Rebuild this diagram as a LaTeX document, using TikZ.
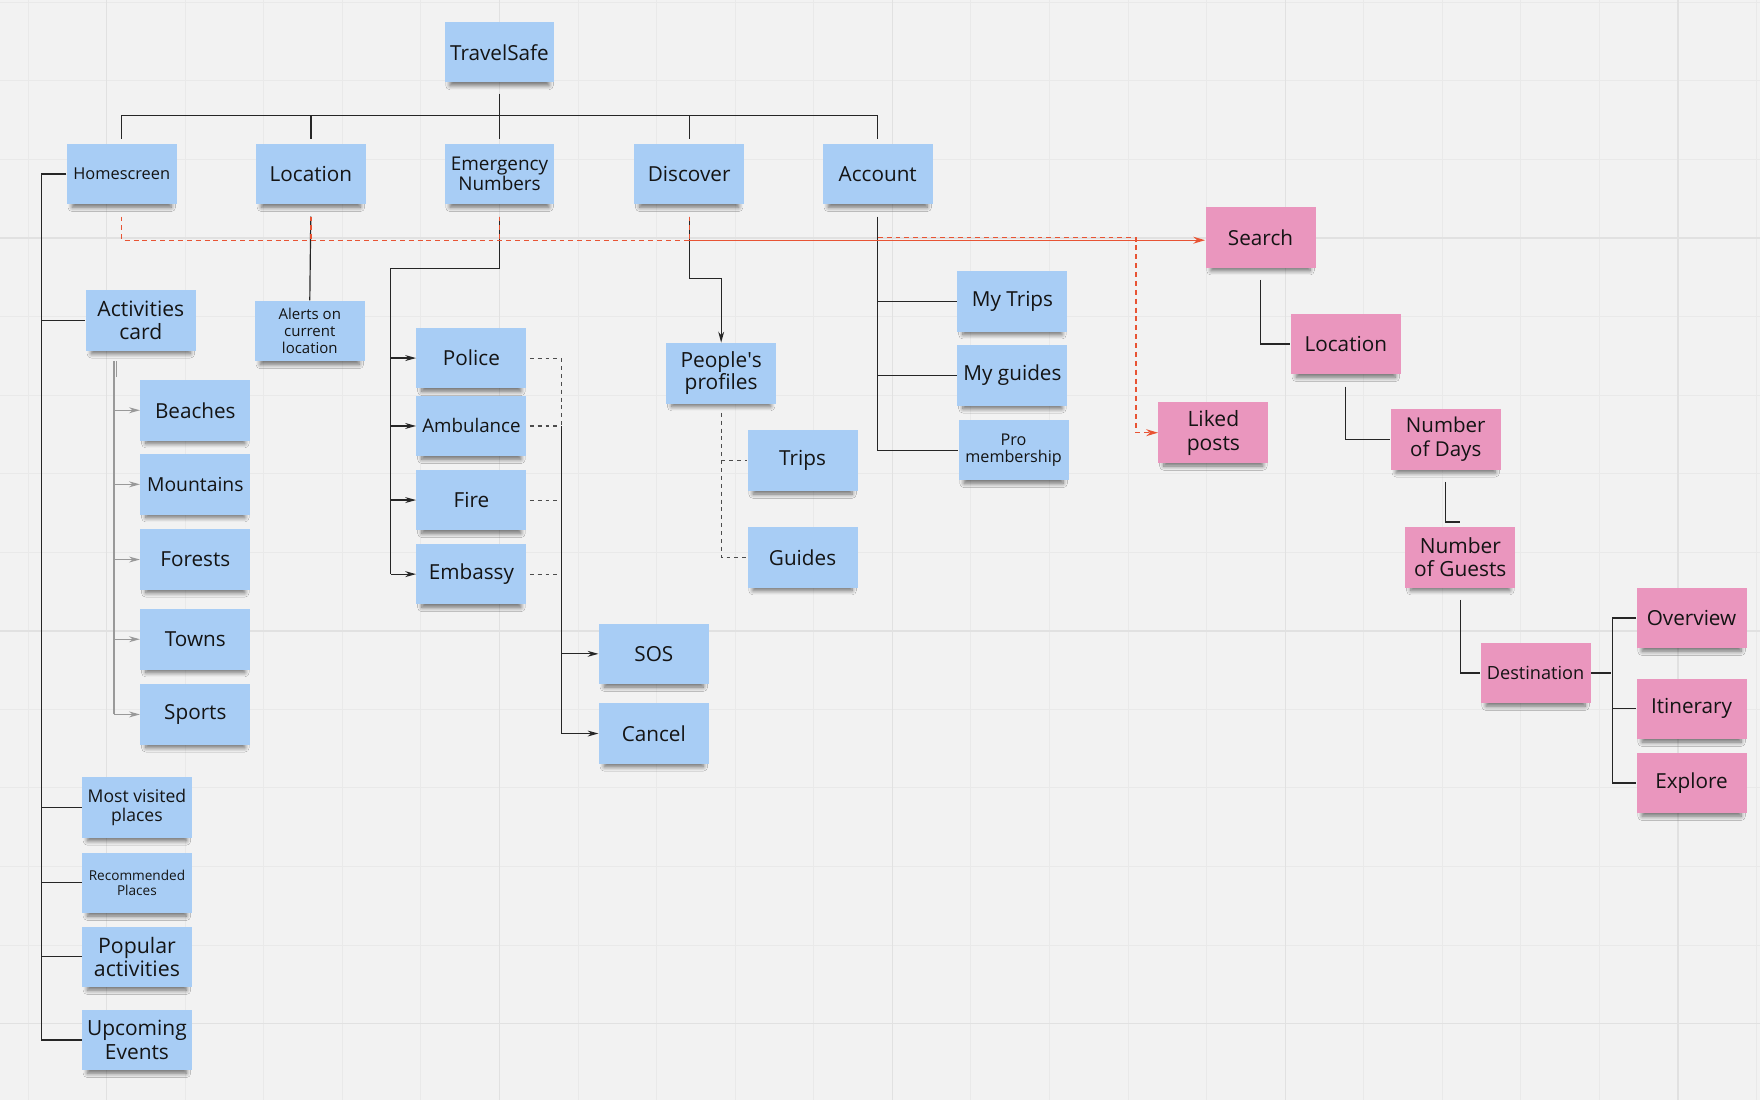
\documentclass[tikz,border=0pt]{standalone}
\usepackage{fontspec}
\setmainfont{Open Sans}
\usetikzlibrary{arrows.meta,shadows.blur}
\definecolor{noteblue}{RGB}{168,205,245}
\definecolor{notepink}{RGB}{234,150,190}
\definecolor{boardbg}{RGB}{242,242,242}
\definecolor{gridminor}{RGB}{233,233,233}
\definecolor{gridmajor}{RGB}{225,225,225}
\definecolor{linkred}{RGB}{232,84,52}
\newcommand{\nfs}[2]{\fontsize{#1}{#2}\selectfont}

\begin{document}
\begin{tikzpicture}[x=0.02cm,y=-0.02cm,line cap=butt,
  note/.style={rectangle,fill=noteblue,minimum width=1.96cm,minimum height=1.08cm,inner sep=1pt,align=center,text=black!92,font=\nfs{10.5}{12},
    blur shadow={shadow xshift=0pt,shadow yshift=-3.4pt,shadow scale=0.9,shadow blur radius=2.4pt,shadow blur steps=8,shadow opacity=55}},
  pnote/.style={note,fill=notepink},
  wire/.style={draw=black!85,line width=0.6pt},
  arrowwire/.style={wire,-{Stealth[length=5.5pt,width=3pt]}},
  dwire/.style={draw=black!70,line width=0.55pt,dash pattern=on 2pt off 2pt},
  gwire/.style={draw=black!40,line width=0.6pt},
  garrow/.style={gwire,-{Stealth[length=5.5pt,width=3pt]}},
  rdash/.style={draw=linkred,line width=0.6pt,dash pattern=on 2.5pt off 2pt},
  rline/.style={draw=linkred,line width=0.7pt}]
\useasboundingbox (0,0) rectangle (1568,980);
\fill[boardbg] (0,0) rectangle (1568,980);
\foreach \i in {0,...,22} \draw[gridminor,line width=0.5pt] ({25+70*\i},0) -- ++(0,980);
\foreach \i in {0,...,13} \draw[gridminor,line width=0.5pt] (0,{2+70*\i}) -- ++(1568,0);
\foreach \i in {0,...,4} \draw[gridmajor,line width=0.7pt] ({95+350*\i},0) -- ++(0,980);
\foreach \i in {0,...,2} \draw[gridmajor,line width=0.7pt] (0,{212+350*\i}) -- ++(1568,0);

\node[note] (ts) at (445,46.5) {TravelSafe};
\node[note,font=\nfs{8.3}{10}] (home) at (108.5,155) {Homescreen};
\node[note] (loc) at (277,155) {Location};
\node[note,font=\nfs{9.6}{10.2}] (emerg) at (445,155) {Emergency\\Numbers};
\node[note] (disc) at (614,155) {Discover};
\node[note] (acct) at (782,155) {Account};
\node[note,font=\nfs{10.7}{11.5}] (actcard) at (125.5,285.5) {Activities\\card};
\node[note,font=\nfs{7.6}{8.5}] (alerts) at (276,295) {Alerts on\\current\\location};
\node[note] (police) at (420,319) {Police};
\node[note,font=\nfs{9.5}{12}] (amb) at (420,379.5) {Ambulance};
\node[note] (fire) at (420,445.5) {Fire};
\node[note] (embassy) at (420,511.5) {Embassy};
\node[note] (sos) at (582.5,582.5) {SOS};
\node[note] (cancel) at (582.5,653.5) {Cancel};
\node[note] (beach) at (174,365.5) {Beaches};
\node[note,font=\nfs{9.8}{12}] (mount) at (174,431.5) {Mountains};
\node[note] (forest) at (174,498.5) {Forests};
\node[note] (town) at (174,569.5) {Towns};
\node[note] (sport) at (174,636.5) {Sports};
\node[note,font=\nfs{8.9}{9.7}] (mostvis) at (122,719.5) {Most visited\\places};
\node[note,font=\nfs{6.9}{7.9}] (recomm) at (122,786.5) {Recommended\\Places};
\node[note,font=\nfs{10.8}{11.8}] (popular) at (122,852.5) {Popular\\activities};
\node[note,font=\nfs{10.6}{11.8}] (upcoming) at (122,926.5) {Upcoming\\Events};
\node[note,font=\nfs{10.6}{11.5}] (people) at (642.5,332.5) {People\textquotesingle s\\profiles};
\node[note] (trips) at (715,410.5) {Trips};
\node[note] (guides) at (715,496.5) {Guides};
\node[note] (mytrips) at (902,268.5) {My Trips};
\node[note] (myguides) at (902,334.5) {My guides};
\node[note,font=\nfs{8.2}{9}] (pro) at (903,401) {Pro\\membership};

\node[pnote] (search) at (1123,211.5) {Search};
\node[pnote] (sloc) at (1199,306.5) {Location};
\node[pnote,font=\nfs{10.7}{12}] (liked) at (1081,385.5) {Liked\\posts};
\node[pnote,font=\nfs{10.4}{12}] (ndays) at (1288,391.5) {Number\\of Days};
\node[pnote,font=\nfs{10.6}{12}] (nguests) at (1301,496.5) {Number\\of Guests};
\node[pnote,font=\nfs{9.2}{12}] (dest) at (1368,599.5) {Destination};
\node[pnote] (overview) at (1507,550.5) {Overview};
\node[pnote] (itin) at (1507,631.5) {Itinerary};
\node[pnote] (explore) at (1507,697.5) {Explore};

\draw[wire,shorten <=5.5pt,shorten >=2.3pt] (ts.south) -- (emerg.north);
\draw[wire,shorten <=2.3pt,shorten >=2.3pt] (home.north) -- ++(0,-25) -| (acct.north);
\foreach \n in {loc,disc} \draw[wire,shorten <=2.3pt] (\n.north) -- ++(0,-25);

\coordinate (spine) at (37,0);
\draw[wire] (home.west) -| (spine |- upcoming.west) -- (upcoming.west);
\foreach \n in {actcard,mostvis,recomm,popular} \draw[wire] (spine |- \n.west) -- (\n.west);

\coordinate (arail) at (101.5,322);
\draw[gwire] (arail) -- (arail |- sport.west);
\draw[gwire] (arail) ++(2,0) -- ++(0,14);
\foreach \n in {beach,mount,forest,town,sport} \draw[garrow] (arail |- \n.west) -- (\n.west);

\draw[wire,shorten <=6pt] (loc.south) -- (alerts.north);

\coordinate (erail) at (348,239);
\draw[wire,shorten <=6pt] (emerg.south) |- (erail) -- (erail |- embassy.west);
\foreach \n in {police,amb,fire,embassy} \draw[arrowwire] (erail |- \n.west) -- (\n.west);

\coordinate (drail) at (500,0);
\draw[dwire,shorten <=1.5pt] (police.east) -| (drail |- amb.east);
\foreach \n in {amb,fire,embassy} \draw[dwire,shorten <=1.5pt] (\n.east) -- (drail |- \n.east);
\draw[arrowwire] (drail |- amb.east) |- (cancel.west);
\draw[arrowwire] (drail |- sos.west) -- (sos.west);

\draw[arrowwire,shorten <=6pt] (disc.south) -- ++(0,66) -| (people.north);
\draw[dwire,shorten <=4.5pt] (people.south) |- (guides.west);
\draw[dwire] (people.south |- trips.west) -- (trips.west);

\draw[wire,shorten <=6pt] (acct.south) |- (pro.west);
\foreach \n in {mytrips,myguides} \draw[wire] (acct.south |- \n.west) -- (\n.west);

\coordinate (redbus) at (0,214);
\draw[rdash,shorten <=6pt] (home.south) |- (disc.south |- redbus);
\foreach \n in {loc,emerg,disc} \draw[rdash,shorten <=6pt] (\n.south) -- (\n.south |- redbus);
\draw[rline,-{Stealth[length=6pt,width=3.5pt]}] (disc.south |- redbus) -- (search.west |- redbus);
\draw[rdash,-{Stealth[length=6pt,width=3.5pt]}] (acct.south |- search.west) -- ++(230,0) |- (liked.west);

\draw[wire,shorten <=6pt] (search.south) |- (sloc.west);
\draw[wire,shorten <=6pt] (sloc.south) |- (ndays.west);
\draw[wire,shorten <=6pt] (ndays.south) |- ([yshift=2.3pt]nguests.north);
\draw[wire,shorten <=6pt] (nguests.south) |- (dest.west);
\draw[wire] (dest.east) -- ++(18,0);
\draw[wire] (overview.west) -- ++(-21,0) |- (explore.west);
\draw[wire] (itin.west) -- ++(-21,0);
\end{tikzpicture}
\end{document}
